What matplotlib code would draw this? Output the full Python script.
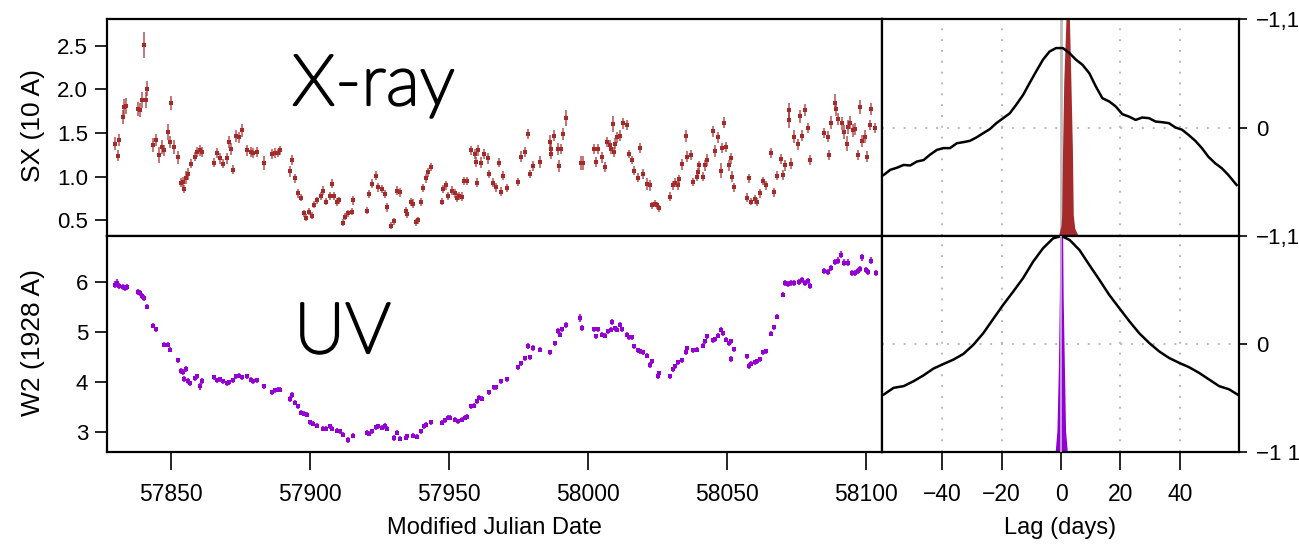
import os
import matplotlib
matplotlib.use("Agg")
import matplotlib.pyplot as plt
from matplotlib import font_manager as fm
from matplotlib import patheffects as pe

# ---------------- data ----------------
xray_mjd = [57829.9, 57831.0, 57831.3, 57832.8, 57833.2, 57834.0, 57838.3, 57838.9, 57839.5, 57840.3,
            57840.9, 57841.5, 57843.6, 57844.8, 57845.8, 57846.8, 57847.4, 57848.8, 57849.6, 57850.1,
            57851.2, 57852.6, 57853.6, 57854.4, 57854.8, 57855.4, 57856.0, 57857.2, 57858.6, 57859.5,
            57860.4, 57861.3, 57865.4, 57866.7, 57867.8, 57868.6, 57870.1, 57871.0, 57871.5, 57872.2,
            57873.4, 57874.4, 57875.7, 57877.3, 57878.7, 57879.7, 57880.9, 57883.3, 57886.3, 57887.3,
            57888.4, 57889.1, 57892.8, 57893.7, 57894.7, 57895.8, 57896.8, 57897.8, 57898.6, 57899.8,
            57900.6, 57901.4, 57902.4, 57904.1, 57904.8, 57905.7, 57907.2, 57908.1, 57908.7, 57909.6,
            57910.5, 57912.0, 57912.5, 57913.8, 57915.2, 57915.6, 57920.4, 57921.3, 57922.5, 57923.6,
            57924.6, 57925.8, 57927.0, 57927.8, 57929.0, 57930.2, 57931.2, 57932.4, 57934.5, 57935.0,
            57936.3, 57937.2, 57938.1, 57939.0, 57939.9, 57940.8, 57941.7, 57942.6, 57943.4, 57947.4,
            57948.0, 57948.9, 57949.8, 57951.0, 57952.2, 57952.8, 57953.7, 57954.7, 57955.6, 57956.6,
            57957.8, 57959.3, 57959.7, 57960.2, 57960.5, 57961.5, 57962.6, 57964.1, 57964.5, 57966.0,
            57966.8, 57968.1, 57968.7, 57969.5, 57971.0, 57974.7, 57975.9, 57977.5, 57978.3, 57979.1,
            57980.1, 57982.7, 57986.3, 57986.7, 57986.9, 57987.9, 57989.3, 57989.5, 57990.5, 57991.1,
            57992.1, 57997.5, 57998.1, 58002.1, 58002.8, 58003.6, 58005.2, 58006.2, 58006.8, 58007.8,
            58008.4, 58009.1, 58009.4, 58009.7, 58010.6, 58011.6, 58012.7, 58013.9, 58014.7, 58016.0,
            58016.6, 58018.1, 58018.9, 58019.9, 58021.3, 58022.3, 58022.9, 58024.3, 58025.0, 58025.6,
            58029.5, 58030.7, 58031.3, 58032.5, 58032.8, 58033.7, 58035.4, 58035.8, 58037.2, 58037.8,
            58039.1, 58039.7, 58040.1, 58041.3, 58042.1, 58042.9, 58045.0, 58045.9, 58046.8, 58048.0,
            58048.2, 58048.8, 58049.7, 58050.7, 58051.5, 58051.9, 58052.7, 58057.1, 58058.0, 58058.8,
            58060.0, 58061.0, 58062.0, 58063.0, 58064.0, 58065.8, 58067.0, 58068.2, 58069.3, 58070.2,
            58070.8, 58072.3, 58072.5, 58073.2, 58074.2, 58075.6, 58076.2, 58077.2, 58078.2, 58079.2,
            58080.0, 58085.0, 58086.4, 58086.8, 58087.6, 58088.8, 58089.1, 58090.1, 58091.3, 58092.1,
            58093.1, 58093.7, 58094.4, 58095.4, 58096.0, 58097.0, 58098.0, 58098.6, 58099.6, 58100.4,
            58101.6, 58102.0, 58103.4]
xray_flux = [1.38, 1.24, 1.42, 1.68, 1.80, 1.81, 1.78, 1.76, 1.88, 2.51,
             1.88, 2.01, 1.36, 1.42, 1.25, 1.34, 1.30, 1.51, 1.40, 1.84,
             1.34, 1.22, 0.93, 0.94, 0.86, 0.99, 1.03, 1.15, 1.23, 1.28,
             1.30, 1.28, 1.16, 1.27, 1.21, 1.15, 1.21, 1.40, 1.32, 1.08,
             1.47, 1.45, 1.53, 1.30, 1.28, 1.27, 1.28, 1.16, 1.26, 1.27,
             1.27, 1.30, 1.06, 1.19, 0.98, 0.81, 0.76, 0.58, 0.53, 0.60,
             0.55, 0.68, 0.73, 0.78, 0.84, 0.71, 0.78, 0.92, 0.78, 0.71,
             0.73, 0.47, 0.54, 0.58, 0.60, 0.73, 0.61, 0.80, 0.92, 1.01,
             0.88, 0.86, 0.80, 0.65, 0.44, 0.49, 0.84, 0.82, 0.61, 0.57,
             0.71, 0.69, 0.48, 0.50, 0.71, 0.87, 0.98, 1.05, 1.11, 0.71,
             0.86, 0.90, 0.78, 0.84, 0.81, 0.76, 0.78, 0.77, 0.95, 0.95,
             1.30, 1.26, 1.17, 0.93, 1.30, 1.16, 1.26, 1.21, 1.03, 0.93,
             0.88, 1.16, 0.83, 1.01, 0.87, 0.94, 1.23, 1.28, 1.49, 1.03,
             1.12, 1.17, 1.40, 1.32, 1.26, 1.47, 1.32, 1.12, 1.32, 1.49,
             1.67, 1.16, 1.16, 1.32, 1.17, 1.32, 1.22, 1.11, 1.40, 1.36,
             1.32, 1.60, 1.28, 1.38, 1.45, 1.47, 1.61, 1.59, 1.26, 1.19,
             1.07, 0.99, 1.33, 1.03, 0.92, 0.90, 0.67, 0.69, 0.67, 0.64,
             0.77, 0.90, 0.93, 0.90, 0.97, 1.14, 1.47, 1.23, 1.25, 0.94,
             1.00, 1.05, 1.13, 1.00, 1.13, 1.19, 1.52, 1.29, 1.45, 1.07,
             1.33, 1.62, 1.34, 1.13, 1.21, 1.00, 0.88, 0.76, 0.98, 0.71,
             0.74, 0.71, 0.81, 0.95, 0.90, 1.27, 0.82, 1.01, 1.20, 1.02,
             1.13, 1.76, 1.65, 1.15, 1.46, 1.37, 1.69, 1.47, 1.76, 1.56,
             1.19, 1.50, 1.46, 1.25, 1.62, 1.85, 1.78, 1.66, 1.61, 1.51,
             1.38, 1.57, 1.62, 1.53, 1.55, 1.25, 1.80, 1.41, 1.46, 1.23,
             1.59, 1.78, 1.56]
xray_err = [0.07, 0.06, 0.07, 0.08, 0.09, 0.09, 0.08, 0.08, 0.09, 0.15,
            0.09, 0.09, 0.08, 0.07, 0.09, 0.08, 0.06, 0.09, 0.07, 0.08,
            0.08, 0.07, 0.05, 0.06, 0.05, 0.07, 0.07, 0.05, 0.05, 0.06,
            0.06, 0.06, 0.05, 0.06, 0.06, 0.05, 0.06, 0.07, 0.07, 0.05,
            0.07, 0.06, 0.07, 0.06, 0.06, 0.06, 0.06, 0.08, 0.06, 0.06,
            0.05, 0.05, 0.06, 0.06, 0.05, 0.05, 0.04, 0.04, 0.04, 0.04,
            0.04, 0.04, 0.04, 0.05, 0.05, 0.04, 0.05, 0.05, 0.05, 0.05,
            0.04, 0.04, 0.04, 0.04, 0.04, 0.05, 0.04, 0.05, 0.05, 0.05,
            0.05, 0.05, 0.05, 0.05, 0.04, 0.04, 0.05, 0.05, 0.04, 0.04,
            0.05, 0.05, 0.04, 0.04, 0.05, 0.05, 0.05, 0.05, 0.05, 0.04,
            0.05, 0.05, 0.05, 0.05, 0.05, 0.05, 0.05, 0.05, 0.05, 0.05,
            0.05, 0.06, 0.06, 0.05, 0.06, 0.06, 0.06, 0.06, 0.05, 0.05,
            0.05, 0.05, 0.05, 0.05, 0.05, 0.05, 0.06, 0.06, 0.06, 0.05,
            0.06, 0.07, 0.08, 0.07, 0.06, 0.06, 0.07, 0.07, 0.06, 0.07,
            0.09, 0.08, 0.08, 0.06, 0.06, 0.06, 0.06, 0.06, 0.06, 0.06,
            0.06, 0.09, 0.06, 0.06, 0.06, 0.06, 0.06, 0.06, 0.05, 0.05,
            0.05, 0.05, 0.06, 0.06, 0.07, 0.06, 0.04, 0.04, 0.04, 0.04,
            0.05, 0.05, 0.05, 0.05, 0.05, 0.06, 0.07, 0.06, 0.06, 0.05,
            0.05, 0.05, 0.05, 0.05, 0.06, 0.07, 0.06, 0.07, 0.06, 0.09,
            0.06, 0.06, 0.06, 0.06, 0.06, 0.06, 0.05, 0.05, 0.05, 0.04,
            0.05, 0.05, 0.05, 0.05, 0.05, 0.06, 0.05, 0.05, 0.06, 0.06,
            0.06, 0.09, 0.09, 0.06, 0.07, 0.06, 0.07, 0.06, 0.07, 0.06,
            0.06, 0.06, 0.06, 0.06, 0.07, 0.10, 0.08, 0.07, 0.07, 0.08,
            0.09, 0.08, 0.07, 0.07, 0.07, 0.06, 0.08, 0.07, 0.07, 0.06,
            0.06, 0.07, 0.06]

uv_mjd = [57829.9, 57830.7, 57831.3, 57832.6, 57833.5, 57834.3, 57838.3, 57838.9, 57839.5, 57840.4,
          57841.5, 57843.7, 57844.8, 57847.5, 57848.8, 57849.7, 57852.6, 57853.6, 57854.4, 57854.8,
          57855.4, 57856.0, 57857.0, 57858.6, 57859.5, 57860.4, 57861.3, 57865.4, 57866.4, 57867.6,
          57868.6, 57870.1, 57871.0, 57872.2, 57873.4, 57874.6, 57875.7, 57877.3, 57878.7, 57879.7,
          57880.9, 57883.3, 57886.3, 57887.3, 57888.4, 57889.1, 57892.8, 57893.7, 57894.7, 57895.8,
          57896.8, 57897.8, 57898.8, 57900.0, 57901.2, 57902.4, 57904.6, 57905.7, 57907.2, 57908.1,
          57909.6, 57910.8, 57912.0, 57913.6, 57915.4, 57920.4, 57921.3, 57922.5, 57923.6, 57924.6,
          57925.8, 57927.0, 57927.6, 57930.2, 57931.2, 57932.4, 57934.5, 57935.0, 57937.2, 57938.4,
          57939.9, 57941.0, 57941.9, 57943.4, 57947.4, 57948.6, 57949.8, 57950.4, 57952.2, 57953.4,
          57954.6, 57955.8, 57956.6, 57957.8, 57959.1, 57960.0, 57960.8, 57961.8, 57964.5, 57966.3,
          57967.1, 57968.7, 57971.0, 57974.7, 57975.9, 57977.5, 57978.3, 57979.1, 57980.1, 57982.7,
          57986.3, 57988.1, 57989.3, 57989.9, 57990.7, 57992.1, 57997.1, 57997.7, 58002.1, 58002.8,
          58003.6, 58005.2, 58006.2, 58007.2, 58008.4, 58008.8, 58009.6, 58010.6, 58011.6, 58012.4,
          58013.9, 58014.7, 58016.0, 58016.6, 58018.1, 58018.9, 58019.9, 58021.3, 58022.3, 58022.9,
          58025.3, 58025.6, 58029.5, 58030.7, 58031.3, 58032.5, 58033.7, 58035.4, 58035.8, 58037.8,
          58039.1, 58041.3, 58042.1, 58042.9, 58045.0, 58045.9, 58046.8, 58048.0, 58048.6, 58049.7,
          58050.7, 58051.5, 58051.6, 58052.7, 58057.1, 58058.0, 58058.8, 58060.0, 58061.0, 58062.0,
          58063.0, 58064.0, 58065.8, 58067.0, 58068.2, 58070.2, 58070.8, 58072.0, 58073.2, 58074.2,
          58076.0, 58077.2, 58078.2, 58079.2, 58080.0, 58085.0, 58086.4, 58087.6, 58088.8, 58090.1,
          58091.0, 58092.1, 58093.7, 58094.9, 58096.0, 58097.3, 58098.0, 58098.6, 58099.9, 58100.8,
          58102.0, 58103.5]
uv_flux = [5.95, 5.99, 5.93, 5.90, 5.88, 5.91, 5.81, 5.78, 5.73, 5.68,
           5.51, 5.13, 5.06, 4.75, 4.75, 4.65, 4.44, 4.23, 4.20, 4.06,
           4.26, 4.02, 3.98, 4.08, 4.12, 3.92, 4.02, 4.10, 4.04, 4.06,
           4.02, 3.98, 4.00, 4.04, 4.12, 4.13, 4.10, 4.12, 4.05, 4.02,
           4.04, 3.92, 3.80, 3.84, 3.85, 3.85, 3.67, 3.75, 3.59, 3.52,
           3.39, 3.37, 3.35, 3.20, 3.17, 3.13, 3.07, 3.07, 3.12, 3.07,
           3.03, 3.02, 2.95, 2.85, 2.93, 2.99, 2.97, 3.02, 3.10, 3.12,
           3.09, 3.12, 3.07, 2.89, 2.99, 2.87, 2.89, 2.92, 2.93, 2.91,
           3.02, 3.12, 3.15, 3.20, 3.19, 3.24, 3.29, 3.29, 3.25, 3.22,
           3.25, 3.29, 3.31, 3.52, 3.53, 3.62, 3.69, 3.67, 3.80, 3.90,
           3.90, 4.02, 4.06, 4.30, 4.38, 4.48, 4.72, 4.50, 4.68, 4.65,
           4.60, 4.78, 5.02, 4.95, 5.06, 5.15, 5.28, 5.08, 5.06, 4.92,
           5.06, 4.95, 4.93, 5.02, 5.05, 5.21, 5.08, 5.05, 5.15, 5.06,
           4.95, 4.90, 4.90, 4.72, 4.64, 4.62, 4.60, 4.53, 4.35, 4.42,
           4.12, 4.18, 4.12, 4.26, 4.32, 4.40, 4.44, 4.60, 4.68, 4.64,
           4.65, 4.73, 4.82, 4.92, 4.84, 4.86, 4.93, 5.05, 4.98, 4.85,
           4.78, 4.82, 4.46, 4.66, 4.52, 4.32, 4.37, 4.40, 4.42, 4.46,
           4.60, 4.62, 4.97, 5.10, 5.31, 5.75, 5.98, 5.97, 5.98, 5.98,
           6.01, 6.05, 5.99, 6.03, 5.93, 6.23, 6.21, 6.28, 6.41, 6.43,
           6.55, 6.39, 6.39, 6.19, 6.19, 6.23, 6.26, 6.50, 6.25, 6.21,
           6.43, 6.19]
uv_err = [0.07, 0.07, 0.06, 0.06, 0.06, 0.06, 0.06, 0.06, 0.06, 0.06,
          0.05, 0.05, 0.05, 0.05, 0.05, 0.05, 0.05, 0.06, 0.06, 0.06,
          0.06, 0.06, 0.05, 0.05, 0.05, 0.07, 0.06, 0.05, 0.05, 0.05,
          0.05, 0.05, 0.05, 0.05, 0.05, 0.05, 0.05, 0.05, 0.05, 0.05,
          0.05, 0.05, 0.05, 0.05, 0.05, 0.05, 0.06, 0.06, 0.05, 0.05,
          0.05, 0.05, 0.05, 0.05, 0.05, 0.05, 0.05, 0.05, 0.05, 0.05,
          0.05, 0.05, 0.05, 0.06, 0.05, 0.05, 0.05, 0.05, 0.05, 0.05,
          0.05, 0.06, 0.05, 0.06, 0.05, 0.05, 0.05, 0.05, 0.05, 0.05,
          0.05, 0.05, 0.05, 0.05, 0.05, 0.05, 0.05, 0.05, 0.05, 0.05,
          0.05, 0.05, 0.05, 0.05, 0.05, 0.05, 0.05, 0.05, 0.05, 0.05,
          0.05, 0.05, 0.05, 0.05, 0.05, 0.05, 0.06, 0.05, 0.06, 0.05,
          0.05, 0.05, 0.06, 0.05, 0.05, 0.06, 0.08, 0.06, 0.05, 0.05,
          0.05, 0.05, 0.05, 0.05, 0.05, 0.06, 0.05, 0.05, 0.05, 0.05,
          0.05, 0.05, 0.05, 0.05, 0.05, 0.05, 0.05, 0.05, 0.06, 0.05,
          0.06, 0.05, 0.05, 0.05, 0.05, 0.05, 0.05, 0.06, 0.05, 0.05,
          0.05, 0.05, 0.05, 0.05, 0.05, 0.05, 0.05, 0.05, 0.05, 0.05,
          0.05, 0.05, 0.06, 0.05, 0.05, 0.06, 0.05, 0.05, 0.05, 0.05,
          0.05, 0.05, 0.05, 0.05, 0.05, 0.05, 0.06, 0.06, 0.06, 0.06,
          0.06, 0.06, 0.06, 0.06, 0.06, 0.06, 0.06, 0.06, 0.06, 0.07,
          0.07, 0.07, 0.07, 0.06, 0.06, 0.06, 0.06, 0.07, 0.06, 0.06,
          0.07, 0.06]

# cross-correlation functions (lag in days, correlation coefficient)
ccf_x_lag = [-59.7, -57.5, -55.2, -53.0, -50.8, -48.6, -46.3, -44.1, -41.8, -39.6, -37.4, -35.1,
             -32.9, -30.7, -28.4, -26.2, -24.0, -21.8, -19.5, -17.3, -15.1, -12.8, -10.6, -8.4,
             -6.1, -3.9, -1.7, 0.6, 2.8, 5.0, 7.2, 9.5, 11.7, 13.9, 16.2, 18.4, 20.6, 22.9, 25.1,
             27.3, 29.6, 31.8, 34.0, 36.3, 38.5, 40.7, 42.9, 45.2, 47.4, 49.6, 51.9, 54.1, 56.3, 59.1]
ccf_x_r = [-0.437, -0.39, -0.37, -0.345, -0.35, -0.314, -0.30, -0.25, -0.206, -0.19, -0.19, -0.145,
           -0.135, -0.123, -0.09, -0.052, -0.015, 0.04, 0.086, 0.13, 0.21, 0.30, 0.41, 0.517,
           0.625, 0.70, 0.732, 0.732, 0.686, 0.625, 0.578, 0.50, 0.378, 0.27, 0.24, 0.194, 0.123,
           0.10, 0.07, 0.092, 0.086, 0.055, 0.049, 0.04, 0.0, -0.02, -0.068, -0.123, -0.19, -0.27,
           -0.33, -0.375, -0.437, -0.53]
ccf_uv_lag = [-59.7, -56.4, -53.0, -49.7, -46.3, -43.0, -39.6, -36.3, -32.9, -29.5, -26.2, -22.8,
              -19.5, -16.1, -12.8, -9.4, -6.1, -2.7, 0.1, 2.9, 6.2, 9.5, 12.9, 16.2, 19.6, 23.0,
              26.3, 29.7, 33.0, 36.4, 39.8, 43.1, 46.5, 49.9, 53.2, 56.6, 59.4]
ccf_uv_r = [-0.468, -0.406, -0.39, -0.345, -0.29, -0.228, -0.185, -0.145, -0.092, -0.006, 0.10, 0.234,
            0.363, 0.486, 0.61, 0.763, 0.886, 0.978, 1.0, 0.963, 0.87, 0.732, 0.594, 0.455, 0.332,
            0.21, 0.10, 0.009, -0.068, -0.13, -0.175, -0.215, -0.268, -0.33, -0.39, -0.42, -0.468]
# centroid lag distributions (outline above the -1 baseline)
dist_x_lag = [-0.9, 0.0, 0.2, 0.5, 0.9, 1.5, 1.9, 2.6, 2.9, 3.3, 3.8, 4.1, 4.6, 5.8]
dist_x_h = [-1.0, -0.9, -0.806, -0.19, 0.425, 0.886, 1.2, 1.2, 0.886, 0.425, -0.19, -0.806, -0.93, -1.0]
dist_uv_lag = [-2.0, -1.4, -0.9, -0.6, -0.35, 0.45, 0.7, 1.1, 1.5, 2.1]
dist_uv_h = [-1.0, -0.8, -0.19, 0.43, 1.2, 1.2, 0.43, -0.19, -0.8, -1.0]

mjd_ticks = [57850, 57900, 57950, 58000, 58050, 58100]
lag_ticks = [-40, -20, 0, 20, 40]

# ---------------- style ----------------
RED = '#a52a2a'
PURPLE = '#9400d3'
plt.rcParams['font.family'] = ['Liberation Sans', 'DejaVu Sans']

# light face for the big band names, slightly thickened with a stroke
big_font = None
big_stroke = 1.6
for f in fm.fontManager.ttflist:
    b = os.path.basename(f.fname).lower()
    if 'lato' in b and 'light' in b and 'italic' not in b:
        big_font = fm.FontProperties(fname=f.fname, size=51)
        break
if big_font is None:
    big_font = fm.FontProperties(family=['Lato', 'DejaVu Sans'], weight='normal', size=50)
    big_stroke = 0.0
big_fx = [pe.withStroke(linewidth=big_stroke, foreground='black')] if big_stroke else []

W, H = 1299, 544
fig = plt.figure(figsize=(W / 100, H / 100), dpi=100)


def rect(x0, y0, x1, y1):
    return [x0 / W, 1 - y1 / H, (x1 - x0) / W, (y1 - y0) / H]


axL1 = fig.add_axes(rect(107, 19, 882, 236))
axL2 = fig.add_axes(rect(107, 236, 882, 452))
axR1 = fig.add_axes(rect(882, 19, 1239, 236))
axR2 = fig.add_axes(rect(882, 236, 1239, 452))

for ax in (axL1, axL2, axR1, axR2):
    for s in ax.spines.values():
        s.set_linewidth(1.6)
        s.set_color('black')

# light curves
axL1.errorbar(xray_mjd, xray_flux, yerr=xray_err, fmt='s', ms=2.6, color=RED,
              ecolor=(0.647, 0.165, 0.165, 0.75), elinewidth=1.2, capsize=0, mew=0)
axL2.errorbar(uv_mjd, uv_flux, yerr=uv_err, fmt='s', ms=2.8, color=PURPLE,
              ecolor=(0.58, 0.0, 0.83, 0.8), elinewidth=1.6, capsize=0, mew=0)

for ax in (axL1, axL2):
    ax.set_xlim(57827, 58105.8)
    ax.tick_params(axis='y', direction='out', length=8.5, width=1.2, labelsize=16, pad=5)
axL1.set_ylim(0.32, 2.807)
axL1.set_yticks([0.5, 1.0, 1.5, 2.0, 2.5])
axL1.set_yticklabels(['0.5', '1.0', '1.5', '2.0', '2.5'])
axL1.tick_params(axis='x', bottom=False, labelbottom=False)
axL2.set_ylim(2.61, 6.92)
axL2.set_yticks([3, 4, 5, 6])
axL2.set_xticks(mjd_ticks)
axL2.set_xticklabels([str(t) for t in mjd_ticks], fontsize=16.5)
axL2.tick_params(axis='x', direction='out', length=13, width=1.2, pad=9)

# CCF panels
for ax, lag, r, dl, dh, dcol, vcol in (
        (axR1, ccf_x_lag, ccf_x_r, dist_x_lag, dist_x_h, RED, '#bdbdbd'),
        (axR2, ccf_uv_lag, ccf_uv_r, dist_uv_lag, dist_uv_h, PURPLE, '#c49ae0')):
    ax.set_xlim(-60.3, 59.9)
    ax.set_ylim(-1, 1)
    for g in (-40, -20, 20, 40):
        ax.axvline(g, color='#b0b0b0', lw=1.3, ls=(0, (1, 5)), zorder=0)
    ax.axhline(0, color='#b0b0b0', lw=1.3, ls=(0, (1, 5)), zorder=0)
    ax.axvline(0, color=vcol, lw=2.0, zorder=1)
    ax.fill_between(dl, -1, dh, color=dcol, lw=0, zorder=2)
    ax.plot(lag, r, color='black', lw=1.8, zorder=3)
    ax.yaxis.tick_right()
    ax.tick_params(axis='y', direction='out', length=6, width=1.2, pad=6,
                   labelsize=16, left=False, right=True)
axR2.axvline(0, ymin=0, ymax=1, color='#c49ae0', lw=1.4, zorder=3)

axR1.set_yticks([1, 0, -1])
axR1.set_yticklabels(['\u22121,1', '0', '\u22121,1'], fontsize=16)
axR1.tick_params(axis='x', bottom=False, labelbottom=False)
axR2.set_yticks([0, -1])
axR2.set_yticklabels(['0', '\u22121 1'], fontsize=16)
axR2.set_xticks(lag_ticks)
axR2.set_xticklabels(['\u221240', '\u221220', '0', '20', '40'], fontsize=16.5)
axR2.tick_params(axis='x', direction='out', length=13, width=1.2, pad=9)

# labels
fig.text(33 / W, 1 - 125 / H, 'SX (10 A)', rotation=90, ha='center', va='center', fontsize=19)
fig.text(33 / W, 1 - 342 / H, 'W2 (1928 A)', rotation=90, ha='center', va='center', fontsize=19)
fig.text(494 / W, 1 - 528 / H, 'Modified Julian Date', ha='center', va='center', fontsize=17)
fig.text(1060 / W, 1 - 528 / H, 'Lag (days)', ha='center', va='center', fontsize=17)
fig.text(292 / W, 1 - 105 / H, 'X-ray', ha='left', va='baseline', fontproperties=big_font,
         path_effects=big_fx)
fig.text(294 / W, 1 - 353 / H, 'UV', ha='left', va='baseline', fontproperties=big_font,
         path_effects=big_fx)

fig.savefig('out.png', dpi=100)
